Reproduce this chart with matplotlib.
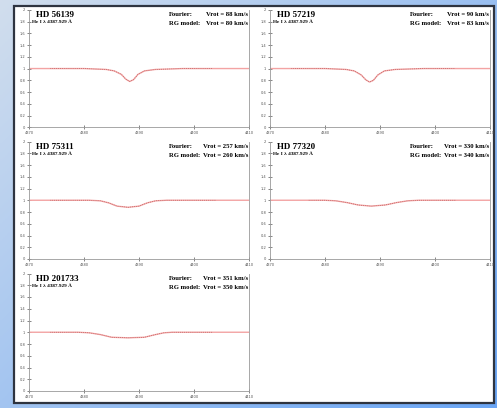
import matplotlib
matplotlib.use("Agg")
import matplotlib.pyplot as plt
import numpy as np
from matplotlib.patches import Rectangle

# --- data ---
stars = ["HD 56139", "HD 57219", "HD 75311", "HD 77320", "HD 201733"]
vrot_fourier = [88, 90, 257, 330, 351]
vrot_rg = [80, 83, 260, 340, 350]
line_label = "He I \u03bb 4387.929 \u00c5"

# model profiles (wavelength, normalised flux) for each star
profile_wl = [
    [4370, 4380, 4384, 4385.5, 4386.8, 4387.6, 4388.3, 4389.0, 4389.8, 4391, 4393, 4398, 4410],
    [4370, 4380, 4383.8, 4385.3, 4386.6, 4387.4, 4388.1, 4388.8, 4389.6, 4390.8, 4392.8, 4398, 4410],
    [4370, 4381, 4383, 4384.5, 4386, 4388, 4390, 4391.5, 4393, 4395, 4410],
    [4370, 4380, 4382, 4384, 4386, 4388.4, 4391, 4393, 4395, 4397, 4410],
    [4370, 4379, 4381, 4383, 4385, 4388, 4391, 4393, 4394.5, 4396, 4410],
]
profile_flux = [
    [1.0, 1.0, 0.985, 0.96, 0.90, 0.82, 0.78, 0.81, 0.90, 0.96, 0.985, 1.0, 1.0],
    [1.0, 1.0, 0.985, 0.96, 0.89, 0.81, 0.77, 0.80, 0.89, 0.96, 0.985, 1.0, 1.0],
    [1.0, 1.0, 0.99, 0.955, 0.90, 0.88, 0.90, 0.955, 0.99, 1.0, 1.0],
    [1.0, 1.0, 0.99, 0.96, 0.92, 0.90, 0.92, 0.96, 0.99, 1.0, 1.0],
    [1.0, 1.0, 0.99, 0.96, 0.915, 0.905, 0.915, 0.96, 0.99, 1.0, 1.0],
]
# wavelength range covered by the observed spectrum
obs_start = [4373.8, 4373.8, 4373.8, 4376.9, 4373.8]
obs_end = [4403.5, 4403.6, 4404.0, 4403.8, 4403.5]

xticks = [4370, 4380, 4390, 4400, 4410]
yticks = [0, 0.2, 0.4, 0.6, 0.8, 1, 1.2, 1.4, 1.6, 1.8, 2]
ytick_labels = ["0", "0.2", "0.4", "0.6", "0.8", "1", "1.2", "1.4", "1.6", "1.8", "2"]

W, H = 497, 408
fig = plt.figure(figsize=(W / 100, H / 100), dpi=100)

# --- blue gradient background ---
bg = fig.add_axes([0, 0, 1, 1])
gx, gy = np.meshgrid(np.linspace(0, 1, 200), np.linspace(0, 1, 200))
t = np.clip(0.55 * gx + 0.45 * gy, 0, 1)
c0 = np.array([0.82, 0.87, 0.93])
c1 = np.array([0.42, 0.65, 0.96])
img = c0[None, None, :] * (1 - t[..., None]) + c1[None, None, :] * t[..., None]
bg.imshow(img, extent=[0, 1, 0, 1], aspect="auto", origin="upper")
bg.set_xlim(0, 1)
bg.set_ylim(0, 1)
bg.axis("off")

# white panel with dark border
bg.add_patch(Rectangle((14 / W, 5 / H), (494 - 14) / W, (402 - 5) / H,
                       facecolor="white", edgecolor="#2e3440", lw=1.6))

lefts = [29 / W, 270 / W]
bottoms = [(H - 127.3) / H, (H - 259) / H, (H - 391) / H]
aw, ah = 220 / W, 117.5 / H

serif = "Liberation Serif"
for i, star in enumerate(stars):
    r, c = divmod(i, 2)
    ax = fig.add_axes([lefts[c], bottoms[r], aw, ah])
    ax.set_facecolor("none")
    ax.plot(profile_wl[i], profile_flux[i], color="#f3a3a3", lw=1.0, zorder=2)
    obs, = ax.plot(profile_wl[i], profile_flux[i], color="#a85050", lw=0.5,
                   linestyle=(0, (1.0, 2.0)), zorder=3)
    clip = Rectangle((obs_start[i], 0), obs_end[i] - obs_start[i], 2,
                     transform=ax.transData)
    obs.set_clip_path(clip)

    ax.set_xlim(4370, 4410)
    ax.set_ylim(0, 2)
    ax.set_xticks(xticks)
    ax.set_xticklabels([str(v) for v in xticks])
    ax.set_yticks(yticks)
    ax.set_yticklabels(ytick_labels)
    ax.tick_params(direction="inout", length=2.5, width=0.5, labelsize=2.6,
                   colors="#555555", pad=1.5)
    for s in ["left", "bottom", "right"]:
        ax.spines[s].set_color("#999999")
        ax.spines[s].set_linewidth(0.6)
    ax.spines["top"].set_visible(False)

    ax.text(0.032, 0.955, star, transform=ax.transAxes, fontsize=6.5,
            fontweight="bold", family=serif, va="center", ha="left")
    ax.text(0.012, 0.895, line_label, transform=ax.transAxes, fontsize=3.8,
            fontweight="bold", family=serif, va="center", ha="left")
    ax.text(0.635, 0.96, "Fourier:", transform=ax.transAxes, fontsize=4.8,
            fontweight="bold", family=serif, va="center", ha="left")
    ax.text(0.635, 0.885, "RG model:", transform=ax.transAxes, fontsize=4.8,
            fontweight="bold", family=serif, va="center", ha="left")
    ax.text(0.995, 0.96, f"Vrot = {vrot_fourier[i]} km/s", transform=ax.transAxes,
            fontsize=4.8, fontweight="bold", family=serif, va="center", ha="right")
    ax.text(0.995, 0.885, f"Vrot = {vrot_rg[i]} km/s", transform=ax.transAxes,
            fontsize=4.8, fontweight="bold", family=serif, va="center", ha="right")

fig.savefig("out.png", dpi=100)
